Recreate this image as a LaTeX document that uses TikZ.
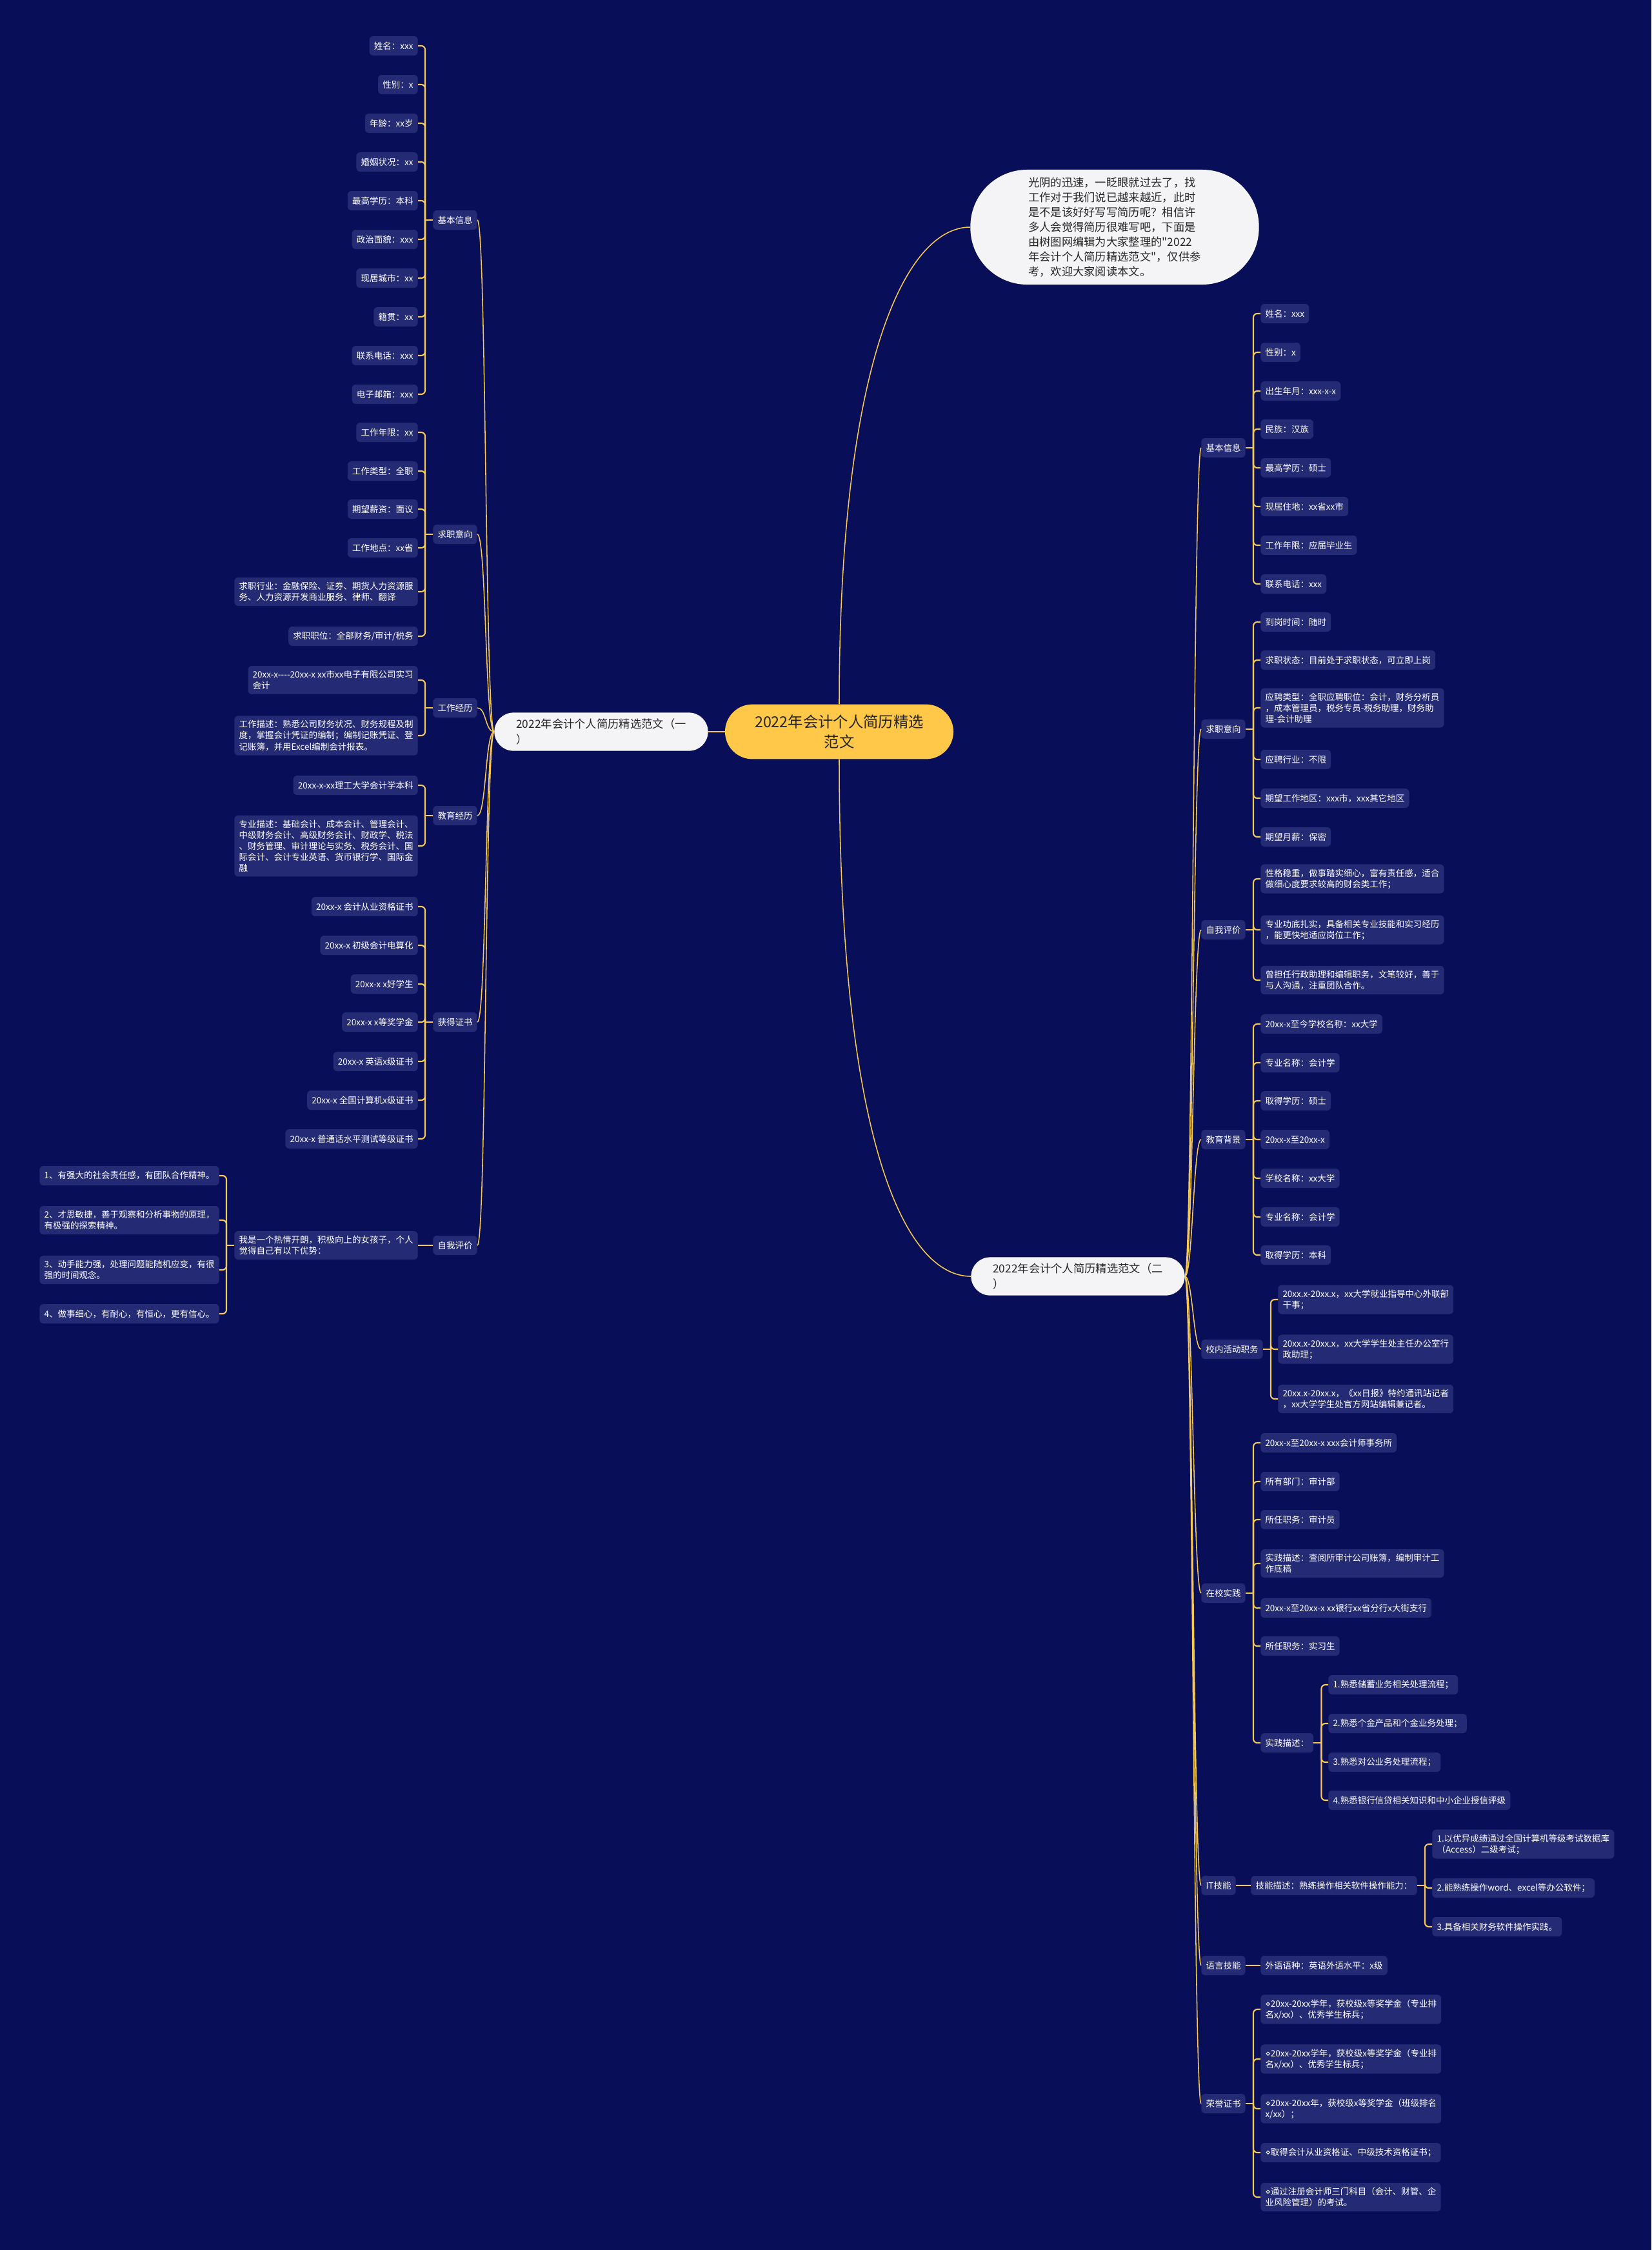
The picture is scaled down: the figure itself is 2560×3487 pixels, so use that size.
\documentclass[tikz,border=0pt]{standalone}
\usepackage{fontspec}
\newfontfamily\cjkfont{Noto Sans CJK SC}
\newfontfamily\symfont{DejaVu Sans}
\definecolor{bgblue}{RGB}{9,14,88}
\definecolor{leafblue}{RGB}{36,42,116}
\definecolor{gold}{RGB}{246,202,82}
\definecolor{rootgold}{RGB}{255,200,72}
\definecolor{pillwhite}{RGB}{244,244,246}
\definecolor{darktext}{RGB}{38,38,38}
\newcommand{\dmd}{{\symfont ⋄}}
\tikzset{
  leaf/.style={fill=leafblue, text=white, rounded corners=0.15cm, inner xsep=0.18cm, inner ysep=0.18cm, minimum height=0.75cm, align=left, font=\cjkfont\fontsize{9.6}{12.1}\selectfont},
  lleaf/.style={leaf, anchor=east},
  rleaf/.style={leaf, anchor=west},
  secbox/.style={fill=pillwhite, text=darktext, rounded corners=0.74cm, minimum width=8.28cm, minimum height=1.48cm, align=left, font=\cjkfont\fontsize{12.3}{17}\selectfont},
  brk/.style={draw=gold, line width=1.5pt, rounded corners=0.15cm},
  trunk/.style={draw=gold, line width=1.1pt}
}
\begin{document}
\begin{tikzpicture}[x=0.025cm, y=-0.025cm]
\useasboundingbox (0,0) rectangle (2560,3487);
\fill[bgblue] (0,0) rectangle (2560,3487);
\node[fill=rootgold, text=darktext, rounded corners=1.06cm, minimum width=8.85cm, minimum height=2.12cm, align=center, font=\cjkfont\fontsize{16.6}{21.8}\selectfont] (root) at (1301,1134) {2022年会计个人简历精选\\范文};
\node[fill=pillwhite, text=darktext, rounded corners=2.2cm, minimum width=11.18cm, minimum height=4.45cm, align=left, font=\cjkfont\fontsize{12.3}{16.4}\selectfont] (intro) at (1728,352) {光阴的迅速，一眨眼就过去了，找\\工作对于我们说已越来越近，此时\\是不是该好好写写简历呢？相信许\\多人会觉得简历很难写吧，下面是\\由树图网编辑为大家整理的"2022\\年会计个人简历精选范文"，仅供参\\考，欢迎大家阅读本文。};
\node[secbox] (secA) at (932,1134) {2022年会计个人简历精选范文（一\\）};
\node[secbox] (secB) at (1671,1978) {2022年会计个人简历精选范文（二\\）};

\node[lleaf] (L1) at (740,341) {基本信息};
\node[lleaf] (L2) at (740,828) {求职意向};
\node[lleaf] (L3) at (740,1097) {工作经历};
\node[lleaf] (L4) at (740,1264) {教育经历};
\node[lleaf] (L5) at (740,1584) {获得证书};
\node[lleaf] (L6) at (740,1930) {自我评价};

\node[lleaf] (L1a) at (648,71) {姓名：xxx};
\node[lleaf] (L1b) at (648,131) {性别：x};
\node[lleaf] (L1c) at (648,191) {年龄：xx岁};
\node[lleaf] (L1d) at (648,251) {婚姻状况：xx};
\node[lleaf] (L1e) at (648,311) {最高学历：本科};
\node[lleaf] (L1f) at (648,371) {政治面貌：xxx};
\node[lleaf] (L1g) at (648,431) {现居城市：xx};
\node[lleaf] (L1h) at (648,491) {籍贯：xx};
\node[lleaf] (L1i) at (648,551) {联系电话：xxx};
\node[lleaf] (L1j) at (648,611) {电子邮箱：xxx};

\node[lleaf] (L2a) at (648,670) {工作年限：xx};
\node[lleaf] (L2b) at (648,730) {工作类型：全职};
\node[lleaf] (L2c) at (648,789) {期望薪资：面议};
\node[lleaf] (L2d) at (648,849) {工作地点：xx省};
\node[lleaf] (L2e) at (648,917) {求职行业：金融保险、证券、期货人力资源服\\务、人力资源开发商业服务、律师、翻译};
\node[lleaf] (L2f) at (648,986) {求职职位：全部财务/审计/税务};

\node[lleaf] (L3a) at (648,1054) {20xx-x----20xx-x xx市xx电子有限公司实习\\会计};
\node[lleaf] (L3b) at (648,1140) {工作描述：熟悉公司财务状况、财务规程及制\\度，掌握会计凭证的编制；编制记账凭证、登\\记账簿，并用Excel编制会计报表。};

\node[lleaf] (L4a) at (648,1217) {20xx-x-xx理工大学会计学本科};
\node[lleaf] (L4b) at (648,1311) {专业描述：基础会计、成本会计、管理会计、\\中级财务会计、高级财务会计、财政学、税法\\、财务管理、审计理论与实务、税务会计、国\\际会计、会计专业英语、货币银行学、国际金\\融};

\node[lleaf] (L5a) at (648,1405) {20xx-x 会计从业资格证书};
\node[lleaf] (L5b) at (648,1465) {20xx-x 初级会计电算化};
\node[lleaf] (L5c) at (648,1525) {20xx-x x好学生};
\node[lleaf] (L5d) at (648,1584) {20xx-x x等奖学金};
\node[lleaf] (L5e) at (648,1645) {20xx-x 英语x级证书};
\node[lleaf] (L5f) at (648,1705) {20xx-x 全国计算机x级证书};
\node[lleaf] (L5g) at (648,1765) {20xx-x 普通话水平测试等级证书};

\node[lleaf] (L6a) at (648,1930) {我是一个热情开朗，积极向上的女孩子，个人\\觉得自己有以下优势：};
\node[lleaf] (L6b) at (340,1822) {1、有强大的社会责任感，有团队合作精神。};
\node[lleaf] (L6c) at (340,1891) {2、才思敏捷，善于观察和分析事物的原理，\\有极强的探索精神。};
\node[lleaf] (L6d) at (340,1968) {3、动手能力强，处理问题能随机应变，有很\\强的时间观念。};
\node[lleaf] (L6e) at (340,2036) {4、做事细心，有耐心，有恒心，更有信心。};

\node[rleaf] (R1) at (1862,694) {基本信息};
\node[rleaf] (R2) at (1862,1130) {求职意向};
\node[rleaf] (R3) at (1862,1441) {自我评价};
\node[rleaf] (R4) at (1862,1766) {教育背景};
\node[rleaf] (R5) at (1862,2091) {校内活动职务};
\node[rleaf] (R6) at (1862,2469) {在校实践};
\node[rleaf] (R7) at (1862,2922) {IT技能};
\node[rleaf] (R8) at (1862,3046) {语言技能};
\node[rleaf] (R9) at (1862,3260) {荣誉证书};

\node[rleaf] (R1a) at (1954,486) {姓名：xxx};
\node[rleaf] (R1b) at (1954,546) {性别：x};
\node[rleaf] (R1c) at (1954,606) {出生年月：xxx-x-x};
\node[rleaf] (R1d) at (1954,665) {民族：汉族};
\node[rleaf] (R1e) at (1954,725) {最高学历：硕士};
\node[rleaf] (R1f) at (1954,785) {现居住地：xx省xx市};
\node[rleaf] (R1g) at (1954,845) {工作年限：应届毕业生};
\node[rleaf] (R1h) at (1954,905) {联系电话：xxx};

\node[rleaf] (R2a) at (1954,964) {到岗时间：随时};
\node[rleaf] (R2b) at (1954,1023) {求职状态：目前处于求职状态，可立即上岗};
\node[rleaf] (R2c) at (1954,1097) {应聘类型：全职应聘职位：会计，财务分析员\\，成本管理员，税务专员-税务助理，财务助\\理-会计助理};
\node[rleaf] (R2d) at (1954,1177) {应聘行业：不限};
\node[rleaf] (R2e) at (1954,1237) {期望工作地区：xxx市，xxx其它地区};
\node[rleaf] (R2f) at (1954,1297) {期望月薪：保密};

\node[rleaf] (R3a) at (1954,1362) {性格稳重，做事踏实细心，富有责任感，适合\\做细心度要求较高的财会类工作；};
\node[rleaf] (R3b) at (1954,1441) {专业功底扎实，具备相关专业技能和实习经历\\，能更快地适应岗位工作；};
\node[rleaf] (R3c) at (1954,1519) {曾担任行政助理和编辑职务，文笔较好，善于\\与人沟通，注重团队合作。};

\node[rleaf] (R4a) at (1954,1587) {20xx-x至今学校名称：xx大学};
\node[rleaf] (R4b) at (1954,1647) {专业名称：会计学};
\node[rleaf] (R4c) at (1954,1706) {取得学历：硕士};
\node[rleaf] (R4d) at (1954,1766) {20xx-x至20xx-x};
\node[rleaf] (R4e) at (1954,1826) {学校名称：xx大学};
\node[rleaf] (R4f) at (1954,1886) {专业名称：会计学};
\node[rleaf] (R4g) at (1954,1945) {取得学历：本科};

\node[rleaf] (R5a) at (1981,2014) {20xx.x-20xx.x，xx大学就业指导中心外联部\\干事；};
\node[rleaf] (R5b) at (1981,2091) {20xx.x-20xx.x，xx大学学生处主任办公室行\\政助理；};
\node[rleaf] (R5c) at (1981,2168) {20xx.x-20xx.x，《xx日报》特约通讯站记者\\，xx大学学生处官方网站编辑兼记者。};

\node[rleaf] (R6a) at (1954,2236) {20xx-x至20xx-x xxx会计师事务所};
\node[rleaf] (R6b) at (1954,2296) {所有部门：审计部};
\node[rleaf] (R6c) at (1954,2355) {所任职务：审计员};
\node[rleaf] (R6d) at (1954,2423) {实践描述：查阅所审计公司账簿，编制审计工\\作底稿};
\node[rleaf] (R6e) at (1954,2492) {20xx-x至20xx-x xx银行xx省分行x大街支行};
\node[rleaf] (R6f) at (1954,2551) {所任职务：实习生};
\node[rleaf] (R6g) at (1954,2701) {实践描述：};
\node[rleaf] (R6h) at (2059,2611) {1.熟悉储蓄业务相关处理流程；};
\node[rleaf] (R6i) at (2059,2671) {2.熟悉个金产品和个金业务处理；};
\node[rleaf] (R6j) at (2059,2731) {3.熟悉对公业务处理流程；};
\node[rleaf] (R6k) at (2059,2790) {4.熟悉银行信贷相关知识和中小企业授信评级};

\node[rleaf] (R7a) at (1939,2922) {技能描述：熟练操作相关软件操作能力：};
\node[rleaf] (R7b) at (2220,2858) {1.以优异成绩通过全国计算机等级考试数据库\\（Access）二级考试；};
\node[rleaf] (R7c) at (2220,2926) {2.能熟练操作word、excel等办公软件；};
\node[rleaf] (R7d) at (2220,2986) {3.具备相关财务软件操作实践。};

\node[rleaf] (R8a) at (1954,3046) {外语语种：英语外语水平：x级};

\node[rleaf] (R9a) at (1954,3114) {\dmd{}20xx-20xx学年，获校级x等奖学金（专业排\\名x/xx）、优秀学生标兵；};
\node[rleaf] (R9b) at (1954,3191) {\dmd{}20xx-20xx学年，获校级x等奖学金（专业排\\名x/xx）、优秀学生标兵；};
\node[rleaf] (R9c) at (1954,3268) {\dmd{}20xx-20xx年，获校级x等奖学金（班级排名\\x/xx）；};
\node[rleaf] (R9d) at (1954,3336) {\dmd{}取得会计从业资格证、中级技术资格证书；};
\node[rleaf] (R9e) at (1954,3405) {\dmd{}通过注册会计师三门科目（会计、财管、企\\业风险管理）的考试。};

\draw[trunk] (root.north) .. controls +(0,-530) and +(-100,0) .. (intro.west);
\draw[trunk] (root.south) .. controls +(0,600) and +(-100,0) .. (secB.west);
\draw[trunk] (root.west) -- (secA.east);

\draw[trunk] (secA.west) .. controls +(-14,0) and +(14,0) .. (L1.east);
\draw[trunk] (secA.west) .. controls +(-14,0) and +(14,0) .. (L2.east);
\draw[trunk] (secA.west) .. controls +(-14,0) and +(14,0) .. (L3.east);
\draw[trunk] (secA.west) .. controls +(-14,0) and +(14,0) .. (L4.east);
\draw[trunk] (secA.west) .. controls +(-14,0) and +(14,0) .. (L5.east);
\draw[trunk] (secA.west) .. controls +(-14,0) and +(14,0) .. (L6.east);

\draw[trunk] (secB.east) .. controls +(12,0) and +(-12,0) .. (R1.west);
\draw[trunk] (secB.east) .. controls +(12,0) and +(-12,0) .. (R2.west);
\draw[trunk] (secB.east) .. controls +(12,0) and +(-12,0) .. (R3.west);
\draw[trunk] (secB.east) .. controls +(12,0) and +(-12,0) .. (R4.west);
\draw[trunk] (secB.east) .. controls +(12,0) and +(-12,0) .. (R5.west);
\draw[trunk] (secB.east) .. controls +(12,0) and +(-12,0) .. (R6.west);
\draw[trunk] (secB.east) .. controls +(12,0) and +(-12,0) .. (R7.west);
\draw[trunk] (secB.east) .. controls +(12,0) and +(-12,0) .. (R8.west);
\draw[trunk] (secB.east) .. controls +(12,0) and +(-12,0) .. (R9.west);

\draw[brk] (L1.west) -- ++(-12,0) coordinate (jL1);
\draw[brk] (jL1) |- (L1a.east);
\draw[brk] (jL1) |- (L1b.east);
\draw[brk] (jL1) |- (L1c.east);
\draw[brk] (jL1) |- (L1d.east);
\draw[brk] (jL1) |- (L1e.east);
\draw[brk] (jL1) |- (L1f.east);
\draw[brk] (jL1) |- (L1g.east);
\draw[brk] (jL1) |- (L1h.east);
\draw[brk] (jL1) |- (L1i.east);
\draw[brk] (jL1) |- (L1j.east);

\draw[brk] (L2.west) -- ++(-12,0) coordinate (jL2);
\draw[brk] (jL2) |- (L2a.east);
\draw[brk] (jL2) |- (L2b.east);
\draw[brk] (jL2) |- (L2c.east);
\draw[brk] (jL2) |- (L2d.east);
\draw[brk] (jL2) |- (L2e.east);
\draw[brk] (jL2) |- (L2f.east);

\draw[brk] (L3.west) -- ++(-12,0) coordinate (jL3);
\draw[brk] (jL3) |- (L3a.east);
\draw[brk] (jL3) |- (L3b.east);

\draw[brk] (L4.west) -- ++(-12,0) coordinate (jL4);
\draw[brk] (jL4) |- (L4a.east);
\draw[brk] (jL4) |- (L4b.east);

\draw[brk] (L5.west) -- ++(-12,0) coordinate (jL5);
\draw[brk] (jL5) |- (L5a.east);
\draw[brk] (jL5) |- (L5b.east);
\draw[brk] (jL5) |- (L5c.east);
\draw[brk] (jL5) |- (L5d.east);
\draw[brk] (jL5) |- (L5e.east);
\draw[brk] (jL5) |- (L5f.east);
\draw[brk] (jL5) |- (L5g.east);

\draw[brk] (L6.west) -- (L6a.east);
\draw[brk] (L6a.west) -- ++(-12,0) coordinate (jL6);
\draw[brk] (jL6) |- (L6b.east);
\draw[brk] (jL6) |- (L6c.east);
\draw[brk] (jL6) |- (L6d.east);
\draw[brk] (jL6) |- (L6e.east);

\draw[brk] (R1.east) -- ++(12,0) coordinate (jR1);
\draw[brk] (jR1) |- (R1a.west);
\draw[brk] (jR1) |- (R1b.west);
\draw[brk] (jR1) |- (R1c.west);
\draw[brk] (jR1) |- (R1d.west);
\draw[brk] (jR1) |- (R1e.west);
\draw[brk] (jR1) |- (R1f.west);
\draw[brk] (jR1) |- (R1g.west);
\draw[brk] (jR1) |- (R1h.west);

\draw[brk] (R2.east) -- ++(12,0) coordinate (jR2);
\draw[brk] (jR2) |- (R2a.west);
\draw[brk] (jR2) |- (R2b.west);
\draw[brk] (jR2) |- (R2c.west);
\draw[brk] (jR2) |- (R2d.west);
\draw[brk] (jR2) |- (R2e.west);
\draw[brk] (jR2) |- (R2f.west);

\draw[brk] (R3.east) -- ++(12,0) coordinate (jR3);
\draw[brk] (jR3) |- (R3a.west);
\draw[brk] (jR3) |- (R3b.west);
\draw[brk] (jR3) |- (R3c.west);

\draw[brk] (R4.east) -- ++(12,0) coordinate (jR4);
\draw[brk] (jR4) |- (R4a.west);
\draw[brk] (jR4) |- (R4b.west);
\draw[brk] (jR4) |- (R4c.west);
\draw[brk] (jR4) |- (R4d.west);
\draw[brk] (jR4) |- (R4e.west);
\draw[brk] (jR4) |- (R4f.west);
\draw[brk] (jR4) |- (R4g.west);

\draw[brk] (R5.east) -- ++(12,0) coordinate (jR5);
\draw[brk] (jR5) |- (R5a.west);
\draw[brk] (jR5) |- (R5b.west);
\draw[brk] (jR5) |- (R5c.west);

\draw[brk] (R6.east) -- ++(12,0) coordinate (jR6);
\draw[brk] (jR6) |- (R6a.west);
\draw[brk] (jR6) |- (R6b.west);
\draw[brk] (jR6) |- (R6c.west);
\draw[brk] (jR6) |- (R6d.west);
\draw[brk] (jR6) |- (R6e.west);
\draw[brk] (jR6) |- (R6f.west);
\draw[brk] (jR6) |- (R6g.west);
\draw[brk] (R6g.east) -- ++(12,0) coordinate (jR6g);
\draw[brk] (jR6g) |- (R6h.west);
\draw[brk] (jR6g) |- (R6i.west);
\draw[brk] (jR6g) |- (R6j.west);
\draw[brk] (jR6g) |- (R6k.west);

\draw[brk] (R7.east) -- (R7a.west);
\draw[brk] (R7a.east) -- ++(12,0) coordinate (jR7);
\draw[brk] (jR7) |- (R7b.west);
\draw[brk] (jR7) |- (R7c.west);
\draw[brk] (jR7) |- (R7d.west);

\draw[brk] (R8.east) -- (R8a.west);

\draw[brk] (R9.east) -- ++(12,0) coordinate (jR9);
\draw[brk] (jR9) |- (R9a.west);
\draw[brk] (jR9) |- (R9b.west);
\draw[brk] (jR9) |- (R9c.west);
\draw[brk] (jR9) |- (R9d.west);
\draw[brk] (jR9) |- (R9e.west);
\end{tikzpicture}
\end{document}
